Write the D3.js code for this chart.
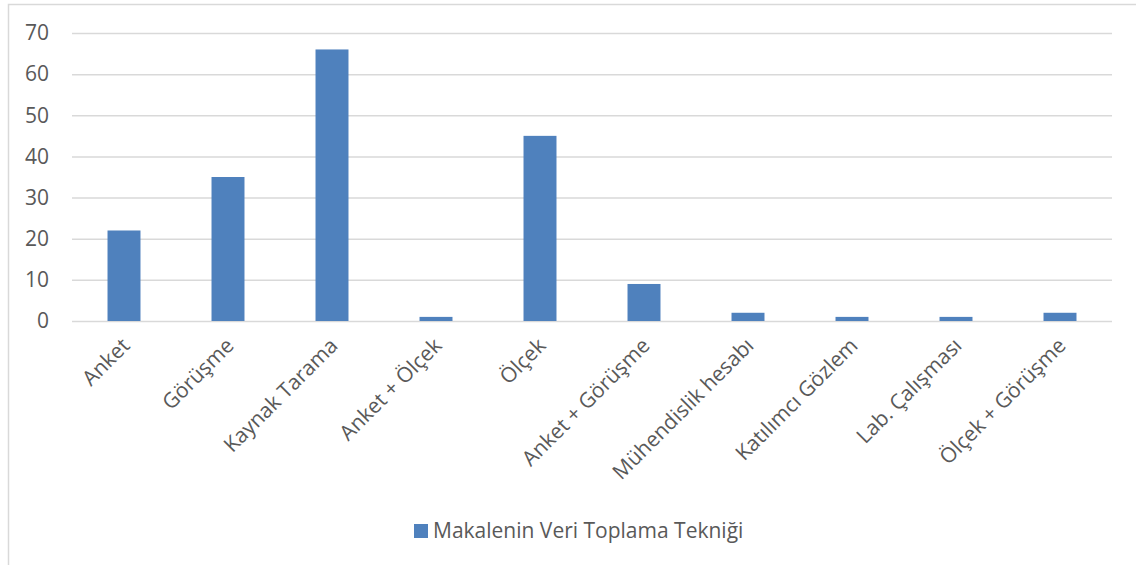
<!DOCTYPE html>
<meta charset="utf-8">
<script src="https://d3js.org/d3.v7.min.js"></script>
<style>
  body { margin: 0; background: #fff; }
  text { font-family: "Open Sans", sans-serif; fill: #595959; }
</style>
<body>
<div id="my_dataviz"></div>
<script>
// data
var categories = ["Anket", "Görüşme", "Kaynak Tarama", "Anket + Ölçek", "Ölçek",
  "Anket + Görüşme", "Mühendislik hesabı", "Katılımcı Gözlem", "Lab. Çalışması", "Ölçek + Görüşme"];
var values = [22, 35, 66, 1, 45, 9, 2, 1, 1, 2];
var yTicks = [0, 10, 20, 30, 40, 50, 60, 70];
var seriesName = "Makalenin Veri Toplama Tekniği";

var W = 1136, H = 565;
var margin = {top: 33, right: 24, bottom: 244, left: 72},
    width = W - margin.left - margin.right,
    height = H - margin.top - margin.bottom;

var root = d3.select("#my_dataviz").append("svg")
  .attr("width", W).attr("height", H);

// chart frame (only top and left edges visible in the picture)
root.append("rect")
  .attr("x", 8.5).attr("y", 4.5)
  .attr("width", W).attr("height", H)
  .attr("fill", "none").attr("stroke", "#d9d9d9").attr("stroke-width", 1.5);

var svg = root.append("g")
  .attr("transform", "translate(" + margin.left + "," + margin.top + ")");

var x = d3.scaleBand().domain(categories).range([0, width]).paddingInner(0.683).paddingOuter(0.3415);
var y = d3.scaleLinear().domain([0, 70]).range([height, 0]);

// gridlines + y labels
var yAxis = svg.append("g")
  .call(d3.axisLeft(y).tickValues(yTicks).tickSize(-width).tickPadding(23));
yAxis.select(".domain").remove();
yAxis.selectAll("line").attr("stroke", "#d9d9d9").attr("stroke-width", 1.5);
yAxis.selectAll("text").attr("font-size", 21).style("fill", "#595959")
  .style("font-family", "'Open Sans', sans-serif");

// bars
svg.selectAll("rect.bar")
  .data(values)
  .enter().append("rect")
  .attr("class", "bar")
  .attr("x", function(d, i) { return x(categories[i]); })
  .attr("width", x.bandwidth())
  .attr("y", function(d) { return y(d); })
  .attr("height", function(d) { return height - y(d); })
  .attr("fill", "#4f81bd");

// x labels rotated
svg.selectAll("text.xl")
  .data(categories)
  .enter().append("text")
  .attr("class", "xl")
  .attr("font-size", 21)
  .attr("text-anchor", "end")
  .attr("transform", function(d) {
    return "translate(" + (x(d) + x.bandwidth() / 2 + 7) + "," + (height + 26) + ") rotate(-45)";
  })
  .text(function(d) { return d; });

// legend
var lg = root.append("g").attr("transform", "translate(414,524)");
lg.append("rect").attr("width", 14).attr("height", 14).attr("fill", "#4f81bd");
lg.append("text").attr("x", 19).attr("y", 14).attr("font-size", 21).text(seriesName);
</script>
</body>
